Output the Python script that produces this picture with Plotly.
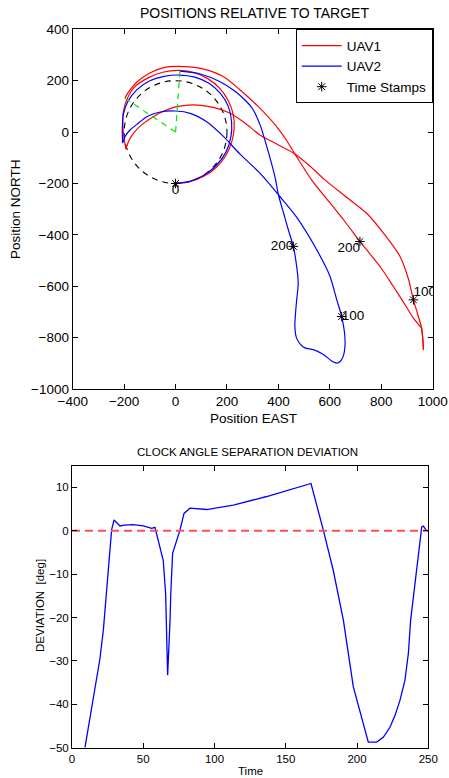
import plotly.graph_objects as go

# ---------------- Positions relative to target (top panel) ----------------
uav1_east = [0, 55, 110, 158, 195, 218, 228, 224, 205, 172, 125, 68, 10, -50, -105,
             -160, -190, -203, -205, -201, -193,
             -180, -160, -130, -90, -45, 0, 50, 100, 150, 212, 270, 328, 400, 464,
             520, 581, 660, 743, 810, 873, 905, 925, 942, 957, 961, 964,
             961, 957, 925, 885, 847, 800, 743, 717, 660, 600, 529, 464,
             430, 390, 322, 250, 185, 110, 30, -50, -100, -150, -180, -197]
uav1_north = [-200, -193, -172, -138, -92, -40, 15, 70, 122, 170, 208, 233, 240, 233, 212,
              175, 125, 80, 30, -20, -66,
              -30, 0, 30, 58, 82, 98, 105, 104, 95, 73, 35, -11, -50, -85,
              -130, -186, -250, -316, -395, -484, -570, -653, -710, -763, -800, -847,
              -800, -763, -724, -660, -601, -530, -458, -426, -350, -275, -186, -85,
              -30, 25, 99, 165, 216, 245, 255, 250, 230, 195, 160, 132]
# indices where the relative track turns sharply
uav1_corners = [20, 46, 48]

uav2_east = [0, 55, 110, 158, 195, 215, 218, 205, 175, 130, 75, 15, -45, -100, -150,
             -185, -203, -207, -206,
             -195, -177, -150, -112, -60, 0, 60, 121, 186, 250, 328, 400, 470, 549,
             600, 627, 646, 657, 659, 652, 640, 627, 610, 575, 536, 503, 485, 470,
             464, 467, 471, 477, 471, 458, 440, 420, 400, 388, 370, 350, 328, 300,
             276, 230, 173, 100, 17]
uav2_north = [-200, -192, -168, -130, -80, -20, 40, 100, 150, 190, 214, 222, 217, 200, 165,
              120, 70, 15, -43,
              -15, 8, 30, 60, 78, 82, 72, 40, -17, -85, -160, -244, -330, -458,
              -560, -653, -718, -780, -830, -873, -893, -899, -893, -866, -847, -840, -825, -800,
              -756, -700, -653, -588, -523, -445, -385, -315, -244, -180, -110, -40, 30, 90,
              119, 160, 196, 225, 237]
uav2_corners = [18]

stamp_east = [0, 925, 717, 646, 458]
stamp_north = [-200, -653, -426, -718, -445]
stamp_labels = ["0", "100", "200", "100", "200"]
stamp_label_side = ["bottom center", "top right", "bottom left", "middle right", "middle left"]

orbit_radius = 200
target = (0, 0)

# ---------------- Clock angle separation deviation (bottom panel) ----------------
time = [9.1, 19.6, 22.0, 27.8, 29.5, 33.7, 36.5, 43.0, 50.0, 55.9, 58.2, 60.6, 64.0,
        65.7, 66.4, 67.1, 68.8, 69.3, 70.6, 73.4, 75.8, 78.6, 82.8, 94.5, 113.2, 136.6,
        155.3, 167.7, 176.3, 183.3, 190.4, 197.4, 207.9, 213.8, 218.4, 223.1, 226.6,
        230.1, 233.6, 236.0, 237.6, 241.9, 245.4, 246.5, 248.9, 250.0]
deviation = [-50.0, -29.5, -22.9, 0.2, 2.5, 1.1, 1.3, 1.4, 1.15, 0.55, 0.8, -2.1, -6.8,
             -14.5, -23.0, -33.3, -20.6, -14.5, -5.2, -2.1, 0.2, 4.0, 5.2, 4.9, 5.9, 7.9,
             9.8, 10.9, 0.2, -9.1, -20.6, -36.0, -48.7, -48.7, -47.6, -45.3, -42.6,
             -39.1, -34.5, -28.3, -20.6, -9.1, 0.9, 1.1, 0.0, 0.0]
desired_deviation = 0

W, H = 449, 778
FONT = "Liberation Sans, Arial, Helvetica, sans-serif"


def px_x(p):
    return p / W


def px_y(p):
    return 1 - p / H


def split_at(xs, ys, corners):
    """Break a track into smooth pieces at its sharp turns."""
    cuts = [0] + list(corners) + [len(xs) - 1]
    return [(xs[a:b + 1], ys[a:b + 1]) for a, b in zip(cuts[:-1], cuts[1:])]


fig = go.Figure()

# UAV trajectories (smoothed between sharp turns)
for name, xs, ys, corners, color in (
        ("UAV1", uav1_east, uav1_north, uav1_corners, "rgb(255,0,0)"),
        ("UAV2", uav2_east, uav2_north, uav2_corners, "rgb(0,0,255)")):
    for k, (sx, sy) in enumerate(split_at(xs, ys, corners)):
        fig.add_trace(go.Scatter(x=sx, y=sy, mode="lines", name=name, legendgroup=name,
                                 showlegend=(k == 0),
                                 line=dict(color=color, width=1.2, shape="spline",
                                           smoothing=0.8),
                                 xaxis="x", yaxis="y"))

# lines from the target to each UAV's final position
for ex, ny in ((uav1_east[-1], uav1_north[-1]), (uav2_east[-1], uav2_north[-1])):
    fig.add_trace(go.Scatter(x=[target[0], ex], y=[target[1], ny], mode="lines",
                             showlegend=False, hoverinfo="skip",
                             line=dict(color="rgb(0,230,0)", width=1.2, dash="6px,5px"),
                             xaxis="x", yaxis="y"))

# time stamps
fig.add_trace(go.Scatter(x=stamp_east, y=stamp_north, mode="markers", name="Time Stamps",
                         marker=dict(symbol="asterisk-open", size=8, color="black",
                                     line=dict(color="black", width=1)),
                         xaxis="x", yaxis="y"))
fig.add_trace(go.Scatter(x=stamp_east, y=stamp_north, mode="text", text=stamp_labels,
                         textposition=stamp_label_side, showlegend=False, cliponaxis=True,
                         textfont=dict(family=FONT, size=13.5, color="black"),
                         xaxis="x", yaxis="y"))

# loiter circle around the target
fig.add_shape(type="circle", xref="x", yref="y",
              x0=target[0] - orbit_radius, x1=target[0] + orbit_radius,
              y0=target[1] - orbit_radius, y1=target[1] + orbit_radius,
              line=dict(color="black", width=1.1, dash="6px,5px"), layer="below")

# deviation history
fig.add_trace(go.Scatter(x=time, y=deviation, mode="lines", showlegend=False,
                         line=dict(color="rgb(0,0,255)", width=1.3),
                         xaxis="x2", yaxis="y2"))
fig.add_trace(go.Scatter(x=[0, 250], y=[desired_deviation, desired_deviation], mode="lines",
                         showlegend=False, hoverinfo="skip",
                         line=dict(color="rgb(255,80,80)", width=2, dash="8px,5px"),
                         xaxis="x2", yaxis="y2"))

axis_common = dict(showline=True, linecolor="black", linewidth=1, mirror="ticks",
                   ticks="inside", ticklen=5, tickcolor="black", tickwidth=1,
                   showgrid=False, zeroline=False, fixedrange=True, automargin=False)

fig.update_layout(
    template="none",
    width=W, height=H,
    margin=dict(l=0, r=0, t=0, b=0, autoexpand=False),
    paper_bgcolor="white", plot_bgcolor="white",
    font=dict(family=FONT, color="black"),
    showlegend=True,
    legend=dict(x=px_x(432.7), xanchor="right", y=px_y(29.3), yanchor="top",
                bgcolor="white", bordercolor="black", borderwidth=1,
                font=dict(family=FONT, size=13.5, color="black"),
                itemwidth=40, tracegroupgap=0),
    xaxis=dict(domain=[px_x(72.7), px_x(432.7)], range=[-400, 1000],
               tickvals=list(range(-400, 1001, 200)), anchor="y",
               tickfont=dict(size=13.5), **axis_common),
    yaxis=dict(domain=[px_y(389), px_y(29.3)], range=[-1000, 400],
               tickvals=list(range(-1000, 401, 200)), anchor="x",
               tickfont=dict(size=13.5), **axis_common),
    xaxis2=dict(domain=[px_x(72), px_x(428.3)], range=[0, 250],
                tickvals=list(range(0, 251, 50)), anchor="y2",
                tickfont=dict(size=11.5), **axis_common),
    yaxis2=dict(domain=[px_y(747.7), px_y(465.7)], range=[-50, 15],
                tickvals=list(range(-50, 11, 10)), anchor="x2",
                tickfont=dict(size=11.5), **axis_common),
    annotations=[
        dict(text="POSITIONS RELATIVE TO TARGET", x=px_x(254), y=px_y(13),
             xref="paper", yref="paper", showarrow=False, font=dict(size=14),
             xanchor="center", yanchor="middle"),
        dict(text="Position EAST", x=px_x(253), y=px_y(418),
             xref="paper", yref="paper", showarrow=False, font=dict(size=13.5),
             xanchor="center", yanchor="middle"),
        dict(text="Position NORTH", x=px_x(16), y=px_y(209), textangle=-90,
             xref="paper", yref="paper", showarrow=False, font=dict(size=13.5),
             xanchor="center", yanchor="middle"),
        dict(text="CLOCK ANGLE SEPARATION DEVIATION", x=px_x(248), y=px_y(452),
             xref="paper", yref="paper", showarrow=False, font=dict(size=11.5),
             xanchor="center", yanchor="middle"),
        dict(text="Time", x=px_x(250), y=px_y(771),
             xref="paper", yref="paper", showarrow=False, font=dict(size=11.5),
             xanchor="center", yanchor="middle"),
        dict(text="DEVIATION  [deg]", x=px_x(40), y=px_y(606), textangle=-90,
             xref="paper", yref="paper", showarrow=False, font=dict(size=11.5),
             xanchor="center", yanchor="middle"),
    ],
)

fig.write_html("out.html")
